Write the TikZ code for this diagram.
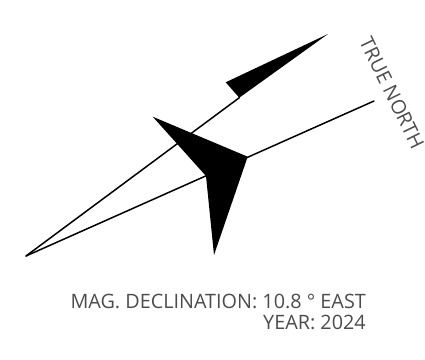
\documentclass[tikz,border=0pt]{standalone}
\usepackage{fontspec}
\setmainfont{Open Sans}
\begin{document}
\begin{tikzpicture}[x=1pt,y=-1pt,
  needle/.style={fill=black,draw=none},
  thinline/.style={draw=black,line width=1.5pt,line cap=round,line join=round},
  label/.style={inner sep=0pt,text=black!70,font=\fontsize{19.8}{20}\selectfont}]
\useasboundingbox (0,0) rectangle (425,359);
\coordinate (origin) at (26,256);
\coordinate (magtip) at (328,34);
\coordinate (magl) at (225.7,82.3);
\coordinate (magb) at (239.3,97.7);
\coordinate (trueend) at (374,101);
\coordinate (a) at (152.7,116.7);
\coordinate (b) at (247.7,156.7);
\coordinate (c) at (214,255);
\coordinate (d) at (206,176);
\draw[thinline] (origin) -- (magb);
\draw[thinline] (origin) -- (trueend);
\fill[needle] (magtip) -- (magl) -- (magb) -- cycle;
\fill[needle] (a) -- (b) -- (c) -- (d) -- cycle;
\node[label,rotate=-64,anchor=center] (tn) at (392,93) {TRUE NORTH};
\node[label,anchor=base east] (decl) at (366,308) {MAG. DECLINATION: 10.8 ° EAST};
\node[label,anchor=base east] (year) at (366,329) {YEAR: 2024};
\end{tikzpicture}
\end{document}
